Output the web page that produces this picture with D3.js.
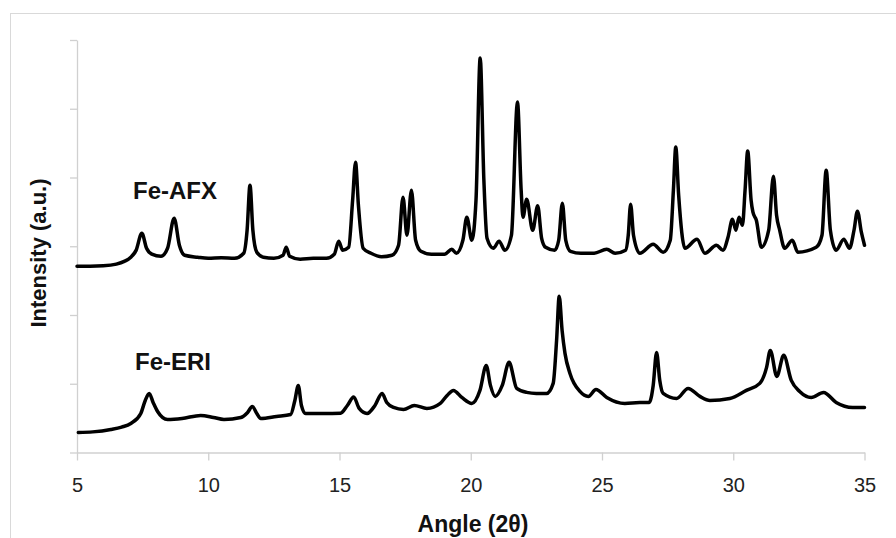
<!DOCTYPE html>
<html>
<head>
<meta charset="utf-8">
<script src="https://cdn.jsdelivr.net/npm/d3@7"></script>
<style>
  html, body { margin: 0; padding: 0; background: #fff; }
  svg { display: block; }
</style>
</head>
<body>
<svg id="chart" width="896" height="538"></svg>
<script>
// ---- data ----
const xTicks = [5, 10, 15, 20, 25, 30, 35];
const yTicks = [0, 1000, 2000, 3000, 4000, 5000, 6000];
const seriesNames = ["Fe-AFX", "Fe-ERI"];

const afxAngle = [5.0, 5.5, 6.0, 6.5, 6.8, 7.05, 7.25, 7.47, 7.65, 7.85, 8.2, 8.45, 8.7, 8.9, 9.1, 9.6, 10.0, 10.5, 11.0, 11.35, 11.48, 11.59, 11.7, 11.85, 12.1, 12.5, 12.85, 12.97, 13.1, 13.5, 14.0, 14.5, 14.8, 14.97, 15.12, 15.35, 15.5, 15.61, 15.72, 15.9, 16.2, 16.6, 17.0, 17.25, 17.42, 17.57, 17.74, 17.9, 18.1, 18.5, 19.0, 19.28, 19.45, 19.7, 19.85, 20.04, 20.2, 20.36, 20.5, 20.62, 20.86, 21.08, 21.3, 21.55, 21.78, 21.92, 21.99, 22.13, 22.36, 22.55, 22.7, 22.85, 23.2, 23.35, 23.49, 23.62, 23.8, 24.2, 24.7, 25.18, 25.5, 25.9, 26.0, 26.09, 26.2, 26.44, 26.95, 27.33, 27.6, 27.72, 27.81, 27.92, 28.16, 28.62, 28.92, 29.36, 29.61, 29.8, 29.97, 30.1, 30.22, 30.35, 30.45, 30.55, 30.68, 30.75, 30.88, 31.07, 31.35, 31.53, 31.65, 31.77, 31.96, 32.25, 32.46, 33.16, 33.38, 33.54, 33.7, 33.92, 34.21, 34.43, 34.6, 34.73, 34.88, 35.0];
const afxCounts = [2710, 2710, 2715, 2740, 2780, 2840, 2940, 3190, 2970, 2885, 2854, 2971, 3408, 3015, 2869, 2840, 2825, 2832, 2825, 2898, 3233, 3888, 3233, 2913, 2840, 2825, 2869, 2985, 2854, 2811, 2825, 2825, 2883, 3073, 2942, 2985, 3670, 4223, 3597, 2971, 2898, 2847, 2869, 3015, 3714, 3160, 3815, 3087, 2927, 2883, 2883, 2956, 2898, 3087, 3422, 3087, 3670, 5738, 3961, 3116, 2971, 3073, 2942, 3160, 5097, 3815, 3422, 3684, 3233, 3590, 3116, 2985, 2942, 3087, 3626, 3087, 2927, 2898, 2898, 2956, 2898, 2942, 3160, 3612, 3160, 2898, 3029, 2913, 3087, 3815, 4442, 3743, 2971, 3102, 2898, 3015, 2942, 3131, 3393, 3233, 3422, 3306, 3815, 4384, 3670, 3495, 3379, 2985, 3233, 4019, 3451, 3233, 2971, 3087, 2913, 2985, 3160, 4107, 3233, 2942, 3102, 2971, 3233, 3510, 3204, 3015];

const eriAngle = [5.05, 5.6, 6.29, 6.7, 7.05, 7.43, 7.6, 7.75, 7.9, 8.07, 8.45, 9.0, 9.71, 10.2, 10.6, 11.24, 11.5, 11.68, 11.85, 12.0, 12.6, 13.14, 13.3, 13.43, 13.55, 13.71, 14.4, 15.04, 15.3, 15.54, 15.75, 16.05, 16.35, 16.62, 16.8, 17.06, 17.44, 17.85, 18.33, 18.84, 19.1, 19.34, 19.66, 20.04, 20.35, 20.59, 20.75, 20.93, 21.2, 21.46, 21.75, 22.13, 22.5, 22.89, 23.14, 23.27, 23.37, 23.48, 23.59, 23.78, 24.16, 24.48, 24.77, 25.18, 25.87, 26.44, 26.8, 26.95, 27.08, 27.2, 27.33, 27.84, 28.28, 28.73, 29.11, 29.87, 30.5, 31.01, 31.27, 31.41, 31.66, 31.92, 32.21, 32.53, 32.97, 33.44, 33.92, 34.55, 35.0];
const eriCounts = [291, 300, 335, 370, 422, 568, 757, 859, 728, 597, 481, 495, 539, 510, 481, 510, 583, 670, 568, 495, 524, 553, 757, 976, 684, 568, 568, 572, 684, 808, 641, 568, 684, 859, 728, 655, 626, 684, 641, 714, 830, 903, 801, 714, 903, 1267, 976, 816, 976, 1311, 932, 874, 859, 859, 1005, 1631, 2272, 1777, 1442, 1150, 888, 816, 917, 801, 714, 728, 728, 976, 1456, 1049, 859, 786, 932, 816, 757, 786, 903, 1005, 1238, 1485, 1107, 1413, 1049, 888, 801, 874, 728, 655, 655];

// ---- drawing ----
const svg = d3.select("#chart");
const W = 896, H = 538;

// outer chart-area border (light gray, cropped at right/bottom)
svg.append("rect")
  .attr("x", 10.5).attr("y", 13.5)
  .attr("width", W).attr("height", H)
  .attr("fill", "none").attr("stroke", "#d9d9d9").attr("stroke-width", 1);

const x = d3.scaleLinear().domain([5, 35]).range([77, 864.5]);
const y = d3.scaleLinear().domain([0, 6000]).range([452.5, 40]);

const axisColor = "#d0d0d0";

const xAxis = svg.append("g")
  .attr("transform", `translate(0,${y(0)})`)
  .call(d3.axisBottom(x).tickValues(xTicks).tickSize(8).tickSizeOuter(0).tickPadding(17).tickFormat(d3.format("d")));
xAxis.select(".domain").attr("stroke", axisColor).attr("stroke-width", 1.3);
xAxis.selectAll(".tick line").attr("stroke", axisColor).attr("stroke-width", 1.3);
xAxis.selectAll(".tick text")
  .attr("fill", "#222")
  .style("font-family", "'Liberation Sans', Arial, sans-serif")
  .style("font-size", "20px");

const yAxis = svg.append("g")
  .attr("transform", `translate(${x(5)},0)`)
  .call(d3.axisLeft(y).tickValues(yTicks).tickSize(7).tickSizeOuter(0).tickFormat(""));
yAxis.select(".domain").attr("stroke", axisColor).attr("stroke-width", 1.3);
yAxis.selectAll(".tick line").attr("stroke", axisColor).attr("stroke-width", 1.3);

const line = d3.line()
  .x(d => x(d[0]))
  .y(d => y(d[1]))
  .curve(d3.curveMonotoneX);

const afx = afxAngle.map((a, i) => [a, afxCounts[i]]);
const eri = eriAngle.map((a, i) => [a, eriCounts[i]]);

[afx, eri].forEach(data => {
  svg.append("path")
    .datum(data)
    .attr("d", line)
    .attr("fill", "none")
    .attr("stroke", "#000")
    .attr("stroke-width", 3.5)
    .attr("stroke-linejoin", "round")
    .attr("stroke-linecap", "round");
});

// series labels
const labelFont = "'Liberation Sans', Arial, sans-serif";
svg.append("text")
  .attr("x", 133).attr("y", 198.5)
  .attr("font-family", labelFont).attr("font-weight", "bold").attr("font-size", 24)
  .attr("fill", "#111")
  .text(seriesNames[0]);
svg.append("text")
  .attr("x", 135).attr("y", 370)
  .attr("font-family", labelFont).attr("font-weight", "bold").attr("font-size", 24)
  .attr("fill", "#111")
  .text(seriesNames[1]);

// axis titles
svg.append("text")
  .attr("x", 473).attr("y", 532)
  .attr("text-anchor", "middle")
  .attr("font-family", labelFont).attr("font-weight", "bold").attr("font-size", 23)
  .attr("fill", "#111")
  .text("Angle (2θ)");

svg.append("text")
  .attr("transform", "translate(46,253) rotate(-90)")
  .attr("text-anchor", "middle")
  .attr("font-family", labelFont).attr("font-weight", "bold").attr("font-size", 22)
  .attr("fill", "#111")
  .text("Intensity (a.u.)");
</script>
</body>
</html>
